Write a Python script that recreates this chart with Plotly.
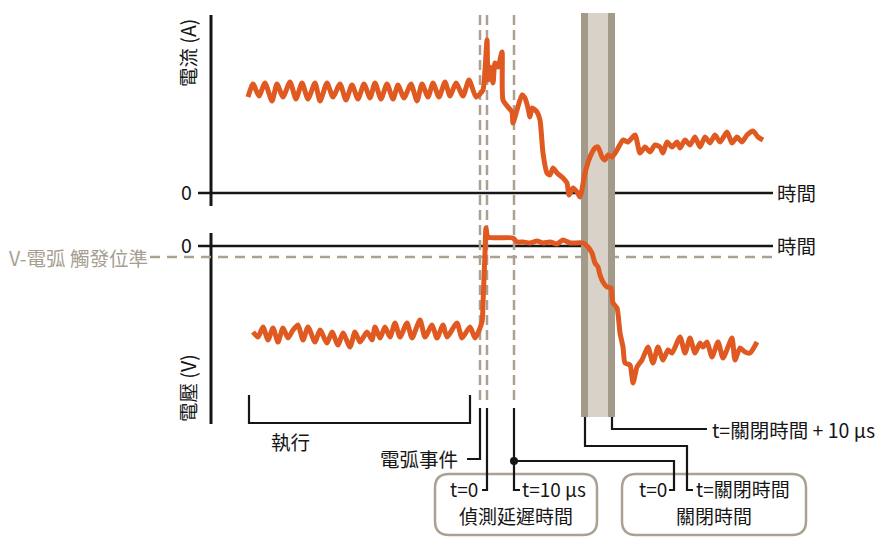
import plotly.graph_objects as go

# ---------------- data (time in arbitrary units, signals in arbitrary units) -------------
t_current = [248, 253, 259, 265, 272, 277, 283, 290, 296, 302, 308, 315, 320, 327, 333, 340,
             346, 352, 358, 364, 370, 375, 381, 387, 393, 398, 404, 411, 417, 422, 428, 433,
             439, 445, 450, 456, 463, 469, 476, 480, 483, 485, 487, 488, 490, 493, 495, 498,
             502, 503, 508, 512, 513, 517, 522, 525, 528, 530, 532, 537, 540, 543, 547, 550,
             553, 557, 563, 567, 569, 573, 577, 580, 585, 590, 595, 598, 602, 605, 608, 612,
             617, 623, 628, 635, 640, 645, 650, 655, 660, 663, 667, 672, 677, 680, 685, 690,
             695, 700, 705, 710, 715, 720, 727, 732, 737, 742, 747, 753, 758, 763]
current = [96, 109, 97, 110, 92, 109, 96, 111, 94, 110, 94, 110, 92, 110, 96, 109,
           93, 108, 94, 109, 95, 110, 94, 109, 94, 108, 95, 109, 92, 109, 96, 110,
           96, 111, 97, 110, 97, 113, 96, 99, 103, 123, 153, 113, 126, 110, 130, 126,
           141, 93, 86, 81, 70, 83, 98, 95, 85, 76, 85, 81, 73, 40, 20, 18,
           25, 20, 15, 10, -2, 5, 1, -4, 20, 36, 45, 46, 36, 33, 38, 36,
           43, 53, 51, 58, 40, 46, 41, 48, 46, 40, 51, 46, 51, 45, 53, 48,
           56, 46, 56, 50, 58, 51, 61, 50, 56, 51, 58, 62, 56, 53]

t_voltage = [253, 258, 263, 268, 273, 278, 283, 288, 293, 298, 303, 308, 315, 320, 327, 332,
             338, 343, 350, 355, 360, 367, 372, 375, 380, 385, 390, 395, 400, 407, 412, 420,
             425, 432, 437, 443, 447, 457, 462, 470, 475, 482, 483, 485, 486, 488, 513, 517,
             523, 530, 537, 543, 550, 557, 563, 570, 583, 588, 592, 595, 598, 600, 603, 607,
             611, 613, 617, 620, 623, 625, 630, 633, 637, 642, 645, 648, 653, 658, 663, 668,
             672, 680, 685, 690, 695, 700, 703, 707, 712, 718, 723, 728, 732, 735, 740, 745,
             750, 757]
voltage = [-86, -91, -81, -94, -82, -96, -82, -92, -84, -79, -94, -81, -96, -84, -97, -86,
           -99, -87, -101, -86, -96, -86, -94, -81, -92, -81, -91, -77, -91, -77, -92, -74,
           -91, -79, -92, -79, -91, -77, -92, -81, -92, -76, -57, -7, 18, 9, 8, 4,
           4, 3, 5, 3, 4, 2, 6, 3, 3, -1, -7, -17, -21, -29, -36, -41,
           -42, -57, -62, -87, -101, -117, -119, -137, -121, -114, -107, -101, -117, -101, -114, -104,
           -107, -91, -107, -92, -107, -97, -101, -96, -111, -96, -112, -101, -92, -114, -102, -106,
           -107, -96]

# ---------------- styling ----------------
ORANGE = "#df5920"
TAUPE_DARK = "#a39a89"
TAUPE_LIGHT = "#d9d2c8"
DASH_COL = "#aaa193"
INK = "#161616"
FONT = "Noto Sans CJK TC, Noto Sans, sans-serif"
FS = 19.5

fig = go.Figure()
fig.add_trace(go.Scatter(x=t_current, y=current, yaxis="y", mode="lines",
                         line=dict(color=ORANGE, width=5, shape="spline", smoothing=0.6),
                         hoverinfo="skip"))
fig.add_trace(go.Scatter(x=t_voltage, y=voltage, yaxis="y2", mode="lines",
                         line=dict(color=ORANGE, width=5, shape="spline", smoothing=0.6),
                         hoverinfo="skip"))
fig.add_trace(go.Scatter(x=[514], y=[461], yaxis="y3", mode="markers",
                         marker=dict(color=INK, size=8), hoverinfo="skip"))

shapes = []


def line(x0, y0, x1, y1, color=INK, width=2.2, dash="solid"):
    shapes.append(dict(type="line", xref="x", yref="y3", x0=x0, y0=y0, x1=x1, y1=y1,
                       line=dict(color=color, width=width, dash=dash), layer="below"))


def poly(points, color=INK, width=2.2):
    d = "M" + " L".join(f"{x},{y}" for x, y in points)
    shapes.append(dict(type="path", xref="x", yref="y3", path=d,
                       line=dict(color=color, width=width), layer="below"))


def rrect(x0, y0, x1, y1, r, color, width):
    d = (f"M{x0 + r},{y0} L{x1 - r},{y0} Q{x1},{y0} {x1},{y0 + r} L{x1},{y1 - r} "
         f"Q{x1},{y1} {x1 - r},{y1} L{x0 + r},{y1} Q{x0},{y1} {x0},{y1 - r} "
         f"L{x0},{y0 + r} Q{x0},{y0} {x0 + r},{y0} Z")
    shapes.append(dict(type="path", xref="x", yref="y3", path=d, fillcolor="white",
                       line=dict(color=color, width=width), layer="below"))


# axes
line(211, 15, 211, 206, width=3)
line(198, 193, 773, 193, width=2.5)
line(211, 233, 211, 424, width=3)
line(198, 246, 773, 246, width=2.5)
# trigger level
line(150, 257, 773, 257, color=DASH_COL, width=2.5, dash="10px,7px")
# dashed event markers
for xv in (480, 487, 514):
    line(xv, 15, xv, 404, color=DASH_COL, width=2.5, dash="10px,5px")
# shutdown band
shapes.append(dict(type="rect", xref="x", yref="y3", x0=581, x1=615, y0=13, y1=417,
                   fillcolor=TAUPE_LIGHT, line=dict(width=0), layer="below"))
shapes.append(dict(type="rect", xref="x", yref="y3", x0=581, x1=588, y0=13, y1=417,
                   fillcolor=TAUPE_DARK, line=dict(width=0), layer="below"))
shapes.append(dict(type="rect", xref="x", yref="y3", x0=608, x1=615, y0=13, y1=417,
                   fillcolor=TAUPE_DARK, line=dict(width=0), layer="below"))

# boxes (drawn before leaders so the leader hooks stay visible inside)
rrect(435, 474, 597, 535, 14, DASH_COL, 2.5)
rrect(622, 474, 806, 535, 14, DASH_COL, 2.5)

# bracket 執行
poly([(249, 395), (249, 423), (470, 423), (470, 395)])
# leaders
poly([(467, 459), (480, 459), (480, 408)])
poly([(487, 408), (487, 490), (482, 490)])
poly([(514, 408), (514, 490), (520, 490)])
poly([(514, 461), (674, 461), (674, 490), (669, 490)])
poly([(585, 417), (585, 446), (687, 446), (687, 490), (693, 490)])
poly([(612, 417), (612, 429), (707, 429)])

annotations = []


def text(s, x, y, xanchor="center", color=INK, size=FS, angle=0):
    annotations.append(dict(text=s, x=x, y=y, xref="x", yref="y3", xanchor=xanchor,
                            yanchor="middle", showarrow=False, textangle=angle,
                            borderpad=0,
                            font=dict(family=FONT, size=size, color=color)))


text("電流 (A)", 187, 53, angle=-90)
text("電壓 (V)", 187, 388, angle=-90)
text("0", 193, 191, xanchor="right")
text("0", 193, 244, xanchor="right")
text("時間", 776, 192, xanchor="left")
text("時間", 776, 245, xanchor="left")
text("V-電弧 觸發位準", 149, 257, xanchor="right", color="#a69e91")
text("執行", 290, 441)
text("電弧事件", 459, 458, xanchor="right")
text("t=0", 479, 488, xanchor="right", size=19)
text("t=10 µs", 521, 488, xanchor="left", size=19)
text("偵測延遲時間", 516, 515, size=19)
text("t=0", 668, 488, xanchor="right", size=19)
text("t=關閉時間", 695, 488, xanchor="left", size=19)
text("關閉時間", 714, 515, size=19)
text("t=關閉時間 + 10 µs", 711, 429, xanchor="left")

fig.update_layout(
    width=880, height=537, margin=dict(l=0, r=0, t=0, b=0),
    paper_bgcolor="white", plot_bgcolor="white", showlegend=False,
    xaxis=dict(range=[0, 880], visible=False, fixedrange=True),
    yaxis=dict(range=[-344, 193], visible=False, fixedrange=True),
    yaxis2=dict(range=[-291, 246], visible=False, overlaying="y", fixedrange=True),
    yaxis3=dict(range=[537, 0], visible=False, overlaying="y", fixedrange=True),
    shapes=shapes, annotations=annotations,
)

fig.write_html("out.html", config={"displayModeBar": False},
               post_script="document.body.style.margin='0px';document.body.style.overflow='hidden';")
